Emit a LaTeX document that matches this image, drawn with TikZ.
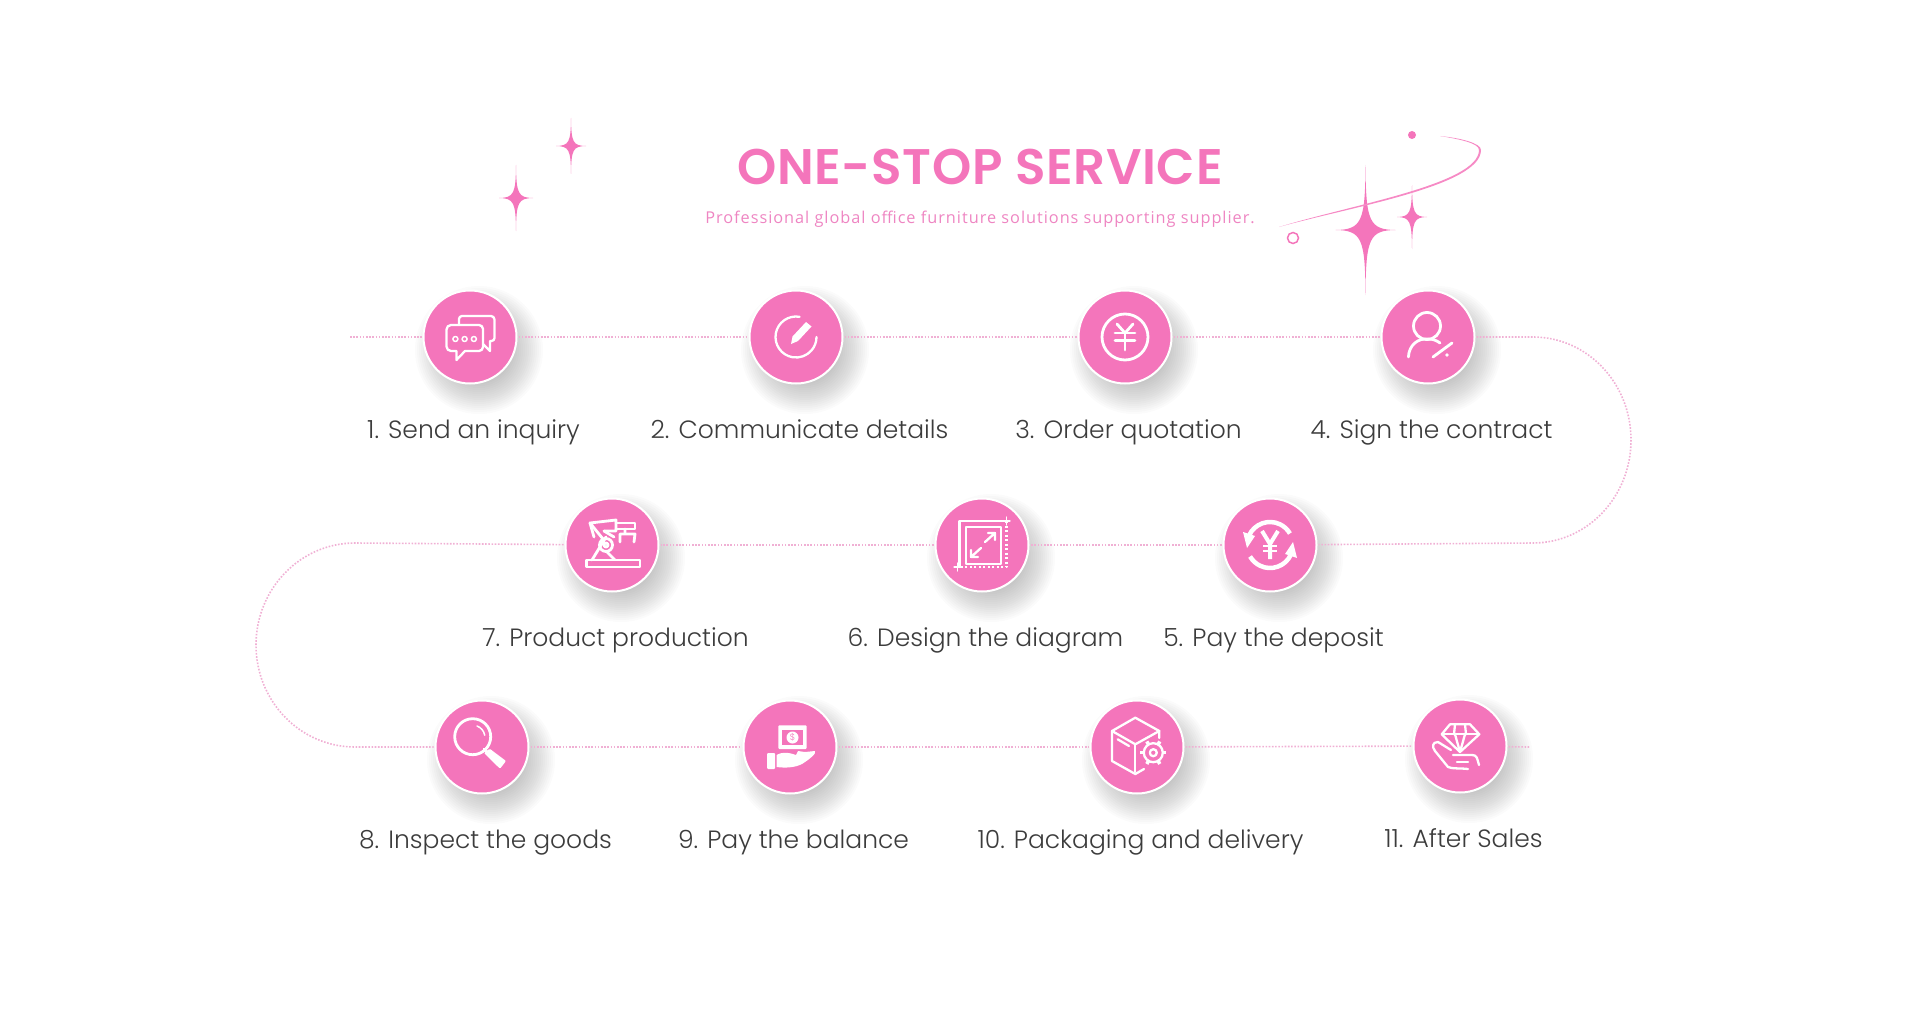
\documentclass[tikz,border=0pt]{standalone}
\usepackage{fontspec}
\usepackage{tikz}
\usetikzlibrary{positioning,backgrounds,calc}
\setmainfont{Poppins Light}
\newfontfamily\titlefont[LetterSpace=1.3]{Poppins SemiBold}
\newfontfamily\subfont[LetterSpace=6]{Open Sans}
\definecolor{rosePink}{HTML}{F475BB}
\definecolor{paleRose}{HTML}{F0B0D4}
\definecolor{subRose}{HTML}{EE85C2}
\definecolor{inkGrey}{HTML}{3C3C3C}
% four pointed star
\newcommand{\sparkle}[4]{%
  \fill[rosePink] (#1,#2-#3) .. controls (#1+0.3,#2-#3*0.13) and (#1+#4*0.13,#2-0.3) .. (#1+#4,#2)
    .. controls (#1+#4*0.13,#2+0.3) and (#1+0.3,#2+#3*0.13) .. (#1,#2+#3)
    .. controls (#1-0.3,#2+#3*0.13) and (#1-#4*0.13,#2+0.3) .. (#1-#4,#2)
    .. controls (#1-#4*0.13,#2-0.3) and (#1-0.3,#2-#3*0.13) .. cycle;}

\begin{document}
\begin{tikzpicture}[
  x=1pt, y=-1pt,
  node distance=33pt,
  stepnode/.style={circle, fill=rosePink, draw=white, line width=2pt,
                   minimum size=93pt, inner sep=0pt, outer sep=2pt},
  steplabel/.style={font=\fontsize{25}{30}\selectfont, text=inkGrey, xshift=3.5pt,
                    text height=20pt, text depth=6pt, inner sep=0pt, outer sep=0pt},
  trail/.style={paleRose, line width=1.6pt, dash pattern=on 1.6pt off 1.6pt},
  icon/.style={draw=white, line width=2.3pt, line cap=round, line join=round}
]
  \useasboundingbox (0,0) rectangle (1920,1014);

  % row one
  \node[stepnode] (inquiry)  at (470,337)  {};
  \node[stepnode] (details)  at (796,337)  {};
  \node[stepnode] (quote)    at (1125,337) {};
  \node[stepnode] (contract) at (1428,337) {};
  % row two
  \node[stepnode] (deposit)  at (1270,545) {};
  \node[stepnode] (design)   at (982,545)  {};
  \node[stepnode] (product)  at (612,545)  {};
  % row three
  \node[stepnode] (inspect)  at (482,747)  {};
  \node[stepnode] (balance)  at (790,747)  {};
  \node[stepnode] (packing)  at (1137,747) {};
  \node[stepnode] (sales)    at (1460,746) {};

  \node[steplabel, below=of inquiry]  {1. Send an inquiry};
  \node[steplabel, below=of details]  {2. Communicate details};
  \node[steplabel, below=of quote]    {3. Order quotation};
  \node[steplabel, below=of contract] {4. Sign the contract};
  \node[steplabel, below=of deposit]  {5. Pay the deposit};
  \node[steplabel, below=of design]   {6. Design the diagram};
  \node[steplabel, below=of product]  {7. Product production};
  \node[steplabel, below=of inspect]  {8. Inspect the goods};
  \node[steplabel, below=of balance]  {9. Pay the balance};
  \node[steplabel, below=of packing]  {10. Packaging and delivery};
  \node[steplabel, below=of sales]    {11. After Sales};

  % soft shadows under the discs
  \begin{scope}[on background layer]
    \foreach \n in {inquiry,details,quote,contract,deposit,design,product,inspect,balance,packing,sales}
      \foreach \r in {34,36,...,64}
        \fill[black, opacity=0.016] ([shift={(9,13)}]\n.center) circle (\r);
  \end{scope}

  % dotted trail
  \coordinate (trailstart) at (350,337);
  \coordinate (rightbend)  at (1533,337);
  \coordinate (leftbend)   at (355,543);
  \coordinate (trailend)   at (1529,747);
  \foreach \a/\b in {trailstart/inquiry,inquiry/details,details/quote,quote/contract,
                     deposit/design,design/product,inspect/balance,balance/packing,
                     packing/sales,sales/trailend}
    \draw[trail] (\a) -- (\b);
  \draw[trail] (contract) -- (rightbend) arc[start angle=-90, end angle=90, x radius=98, y radius=103] -- (deposit);
  \draw[trail] (product) -- (leftbend) arc[start angle=-90, end angle=-270, x radius=99, y radius=102] -- (inspect);

  % heading
  \node[font=\titlefont\fontsize{50}{54}\selectfont, text=rosePink] (title) at (980,167) {ONE-STOP SERVICE};
  \node[font=\subfont\fontsize{16.3}{20}\selectfont, text=subRose] (subtitle) at (980,219)
    {Professional global office furniture solutions supporting supplier.};

  % stars and orbit
  \sparkle{571}{146}{28}{15}
  \sparkle{516}{198}{33}{17}
  \sparkle{1365.5}{230}{65}{30}
  \sparkle{1412}{217}{32}{15}
  \fill[rosePink] (1412,135) circle (4);
  \draw[rosePink, line width=1.5pt] (1293,238) circle (5.5);
  \fill[rosePink!85!white] (1279,227) .. controls (1350,207) and (1481,186) .. (1481,150)
    .. controls (1481,143) and (1460,138) .. (1440,136)
    .. controls (1458,139) and (1479,143) .. (1479,150)
    .. controls (1479,184) and (1350,205) .. (1279,227);

  % icons
  \begin{scope}[shift={(inquiry.center)}, icon]
    \draw (-19,-12) -- (9,-12) arc[start angle=-90, end angle=0, radius=4] -- (13,10) arc[start angle=0, end angle=90, radius=4]
      -- (-5,14) -- (-13.6,23) -- (-13.6,14) -- (-19,14) arc[start angle=90, end angle=180, radius=4.5] -- (-23.5,-7.5) arc[start angle=180, end angle=270, radius=4.5];
    \draw (-11,-13) -- (-11,-18) arc[start angle=180, end angle=270, radius=3] -- (21,-21) arc[start angle=-90, end angle=0, radius=3.5] -- (24.5,1) arc[start angle=0, end angle=90, radius=3] -- (20,4) -- (20,14) -- (13,7);
    \foreach \x in {-14.6,-5.4,3.9}
      \draw[line width=1.5pt] (\x,2) circle (2.5);
  \end{scope}

  \begin{scope}[shift={(details.center)}, icon]
    \draw (-80:20.5) arc[start angle=-80, end angle=-360, radius=20.5];
    \fill[white] (-5,7) -- (-3.5,-0.5) -- (10,-15) -- (15.5,-10.5) -- (2,4) -- cycle;
  \end{scope}

  \begin{scope}[shift={(quote.center)}, icon, line width=2.8pt]
    \draw (0,0) circle (23);
    \draw (-10,-4) -- (10,-4);
    \draw (-10,3.5) -- (10,3.5);
    \draw (0,-4) -- (0,13);
    \draw (-8,-13) -- (0,-4) -- (8,-13);
  \end{scope}

  \begin{scope}[shift={(contract.center)}, icon, line width=2.8pt]
    \draw (-1,-11) circle (13.5);
    \draw (-19.6,20) .. controls (-19,8) and (-10,1) .. (0,2) .. controls (4,2) and (8,3) .. (12,6);
    \draw[line width=2.8pt] (5,20) -- (24,6);
    \fill[white] (19,18) circle (1.8);
  \end{scope}

  \begin{scope}[shift={(product.center)}, icon, line width=2.8pt]
    \draw (-25.5,15) rectangle (28,22);
    \draw (-20,15) -- (-6,-8);
    \draw (-6,6) -- (3,15);
    \draw (-6,0) circle (6.5);
    \draw (-6,0) circle (2);
    \draw (-9,-6) -- (-22,-22) -- (4,-25) -- (4,-14) -- (-8,-14);
    \draw (-22,-22) -- (-18,-8);
    \draw (2,-8) -- (-8,-14);
    \draw (4,-22) -- (23,-22) -- (23,-16) -- (4,-16);
    \draw (13,-16) -- (13,-13) (8,-3) -- (8,-11) -- (23,-11) -- (22,-3);
  \end{scope}

  \begin{scope}[shift={(design.center)}, icon]
    \draw (-22.5,22) -- (-22.5,-24) -- (24.5,-24);
    \draw[dash pattern=on 2pt off 2.5pt, line cap=butt] (24.5,-24) -- (24.5,22) -- (-22.5,22);
    \draw[line width=1.3pt] (-24.5,26) -- (-24.5,18) (-28,22) -- (-20,22) (28,-24) -- (21,-24) (24.5,-28) -- (24.5,-20);
    \draw (-16,-18) rectangle (19,19);
    \draw (3,-3) -- (13,-12) (6,-12) -- (13,-12) -- (13,-5);
    \draw (-11,12) -- (-1,3) (-11,5) -- (-11,12) -- (-4,12);
  \end{scope}

  \begin{scope}[shift={(deposit.center)}, icon]
    \draw[line width=4.5pt, line cap=butt] (-155:23) arc[start angle=-155, end angle=-30, radius=23];
    \draw[line width=4.5pt, line cap=butt] (25:23) arc[start angle=25, end angle=150, radius=23];
    \fill[white] (-27,-13) -- (-15,-9) -- (-23,3) -- cycle;
    \fill[white] (27,13) -- (15,9) -- (23,-3) -- cycle;
    \draw[line width=4pt, line cap=butt] (-8,-14) -- (0,-1) -- (8,-14) (0,-1) -- (0,14);
    \draw[line width=2.8pt, line cap=butt] (-7,1) -- (7,1) (-7,6) -- (7,6);
  \end{scope}

  \begin{scope}[shift={(inspect.center)}, icon]
    \draw[line width=2.8pt] (-9.3,-10.3) circle (18);
    \draw[line width=1.5pt] (-5,-21) arc[start angle=-70, end angle=-10, radius=12];
    \draw[line width=2.5pt] (2,2) -- (5,5);
    \fill[white, rounded corners=1pt] (2,6) -- (7.7,1.7) -- (24,14) -- (18,21.7) -- cycle;
  \end{scope}

  \begin{scope}[shift={(balance.center)}, icon]
    \fill[white, rounded corners=1pt] (-11.7,-21.7) rectangle (16.7,2);
    \fill[rosePink] (-8,-17) rectangle (13,-2);
    \fill[white] (2.5,-9.5) circle (6);
    \node[text=rosePink, font=\fontsize{9}{9}\selectfont, inner sep=0pt] (dollar) at (2.5,-9.5) {\$};
    \fill[white, rounded corners=1pt] (-23,6) rectangle (-15,22);
    \fill[white] (-13.5,8) .. controls (-6,4) and (0,6) .. (6,8) -- (8,4) -- (15,5) -- (25,4) .. controls (27,6) and (20,12) .. (12,17) .. controls (4,21) and (-5,21) .. (-13.5,20) -- cycle;
  \end{scope}

  \begin{scope}[shift={(packing.center)}, icon]
    \draw (7,22) -- (-1.7,27) -- (-25,14) -- (-25,-16) -- (-1.7,-29.3) -- (22.3,-16) -- (22.3,-9);
    \draw (-25,-16) -- (-1.7,-2.7) -- (22.3,-16);
    \draw (-1.7,-2.7) -- (-1.7,25);
    \draw (-19.3,-7.7) -- (-8,-1);
    \draw (16.3,5.7) circle (9.5);
    \draw (16.3,5.7) circle (3.5);
    \foreach \t in {0,60,...,300}
      \draw[line width=3.5pt, line cap=butt] ($(16.3,5.7)+(\t:9)$) -- ($(16.3,5.7)+(\t:13)$);
  \end{scope}

  \begin{scope}[shift={(sales.center)}, icon]
    \draw (-10,-21.7) -- (10,-21.7) -- (19.3,-11.7) -- (0,6) -- (-18.3,-11.7) -- cycle;
    \draw (-18.3,-11.7) -- (19.3,-11.7);
    \draw (-5,-11.7) -- (0,6) -- (5,-11.7);
    \draw (-5,-21.7) -- (-6,-11.7) (5,-21.7) -- (6,-11.7);
    \draw (-9,4) -- (-22,-4) .. controls (-28,-4) and (-28,1) .. (-25,5) -- (-12,21) .. controls (-8,23) and (0,22) .. (8,23);
    \draw (-7,9) -- (12,9) .. controls (17,9) and (17,12) .. (19,19);
    \draw (-3,16) -- (8,16);
  \end{scope}
\end{tikzpicture}
\end{document}
